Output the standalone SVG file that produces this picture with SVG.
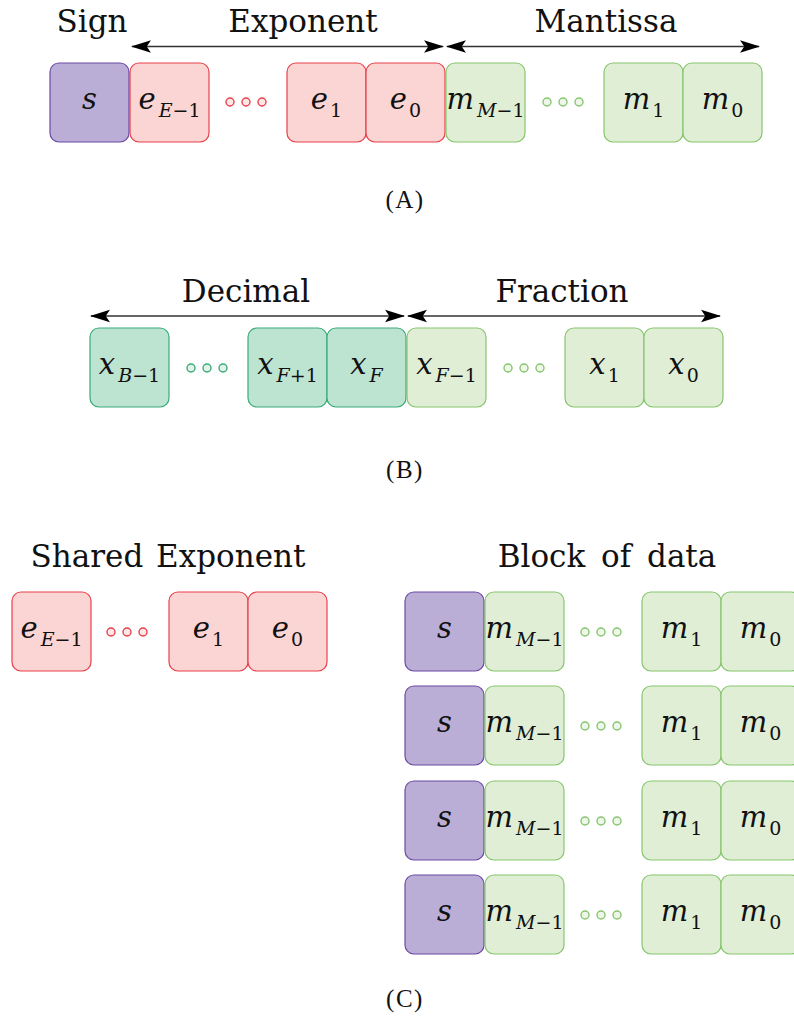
<svg xmlns="http://www.w3.org/2000/svg" width="794" height="1019" viewBox="0 0 794 1019">
<style>
.h{font-family:"DejaVu Serif",serif;font-size:31px;fill:#111;text-anchor:middle}
.cap{font-family:"Liberation Serif",serif;font-size:25px;fill:#111;text-anchor:middle;letter-spacing:1.5px}
.l{font-family:"DejaVu Serif",serif;font-style:italic;font-size:29px;fill:#111;text-anchor:middle}
.sub{font-size:19px}
.up{font-style:normal}
.sg{fill:#bbaed6;stroke:#6b4aa6;stroke-width:1.2}
.ex{fill:#fbd4d4;stroke:#e8414b;stroke-width:1.2}
.mt{fill:#dfeed5;stroke:#86c66e;stroke-width:1.2}
.dc{fill:#bde3d1;stroke:#38ab78;stroke-width:1.2}
.dex{fill:#fde7e7;stroke:#e8414b;stroke-width:1.4}
.dmt{fill:#eef7e9;stroke:#86c66e;stroke-width:1.4}
.ddc{fill:#e3f3eb;stroke:#38ab78;stroke-width:1.4}
.arr{stroke:#333;stroke-width:1.5;fill:none;marker-start:url(#ah);marker-end:url(#ah)}
</style>
<defs>
<marker id="ah" markerUnits="userSpaceOnUse" markerWidth="20" markerHeight="14" viewBox="0 0 19 12" refX="18" refY="6" orient="auto-start-reverse">
<path d="M0,0 L19,6 L0,12 L4,6 z" fill="#000"/>
</marker>
</defs>

<g id="connectors">
<line class="arr" x1="132" y1="46.5" x2="443" y2="46.5"/>
<line class="arr" x1="447" y1="46.5" x2="759" y2="46.5"/>
<line class="arr" x1="91" y1="316" x2="404" y2="316"/>
<line class="arr" x1="408" y1="316" x2="720" y2="316"/>
</g>

<g id="titles">
<text class="h" x="92" y="32">Sign</text>
<text class="h" x="303" y="32">Exponent</text>
<text class="h" x="606" y="32">Mantissa</text>
<text class="h" x="246" y="302">Decimal</text>
<text class="h" x="562" y="302">Fraction</text>
<text class="h" x="168" y="567" word-spacing="3">Shared Exponent</text>
<text class="h" x="607" y="567" word-spacing="6">Block of data</text>
<text class="cap" x="405" y="208">(A)</text>
<text class="cap" x="405" y="478">(B)</text>
<text class="cap" x="405" y="1007">(C)</text>
</g>

<!-- Panel A -->
<g id="a-s"><rect class="sg" x="50" y="63" width="79" height="79" rx="9"/><text class="l" x="89.5" y="109">s</text></g>
<g id="a-eE1"><rect class="ex" x="130" y="63" width="79" height="79" rx="9"/><text class="l" x="169.5" y="109">e<tspan class="sub" dx="3" dy="8">E<tspan class="up">−1</tspan></tspan></text></g>
<g id="a-edots"><circle class="dex" cx="230" cy="102" r="4"/><circle class="dex" cx="246" cy="102" r="4"/><circle class="dex" cx="262" cy="102" r="4"/></g>
<g id="a-e1"><rect class="ex" x="287" y="63" width="79" height="79" rx="9"/><text class="l" x="326.5" y="109">e<tspan class="sub up" dx="2" dy="8">1</tspan></text></g>
<g id="a-e0"><rect class="ex" x="366" y="63" width="79" height="79" rx="9"/><text class="l" x="405.5" y="109">e<tspan class="sub up" dx="2" dy="8">0</tspan></text></g>
<g id="a-mM1"><rect class="mt" x="446" y="63" width="79" height="79" rx="9"/><text class="l" x="485.5" y="109">m<tspan class="sub" dx="3" dy="8">M<tspan class="up">−1</tspan></tspan></text></g>
<g id="a-mdots"><circle class="dmt" cx="547" cy="102" r="4"/><circle class="dmt" cx="563" cy="102" r="4"/><circle class="dmt" cx="579" cy="102" r="4"/></g>
<g id="a-m1"><rect class="mt" x="604" y="63" width="79" height="79" rx="9"/><text class="l" x="643.5" y="109">m<tspan class="sub up" dx="2" dy="8">1</tspan></text></g>
<g id="a-m0"><rect class="mt" x="683" y="63" width="79" height="79" rx="9"/><text class="l" x="722.5" y="109">m<tspan class="sub up" dx="2" dy="8">0</tspan></text></g>

<!-- Panel B -->
<g id="b-xB1"><rect class="dc" x="90" y="328" width="79" height="79" rx="9"/><text class="l" x="129.5" y="374">x<tspan class="sub" dx="3" dy="8">B<tspan class="up">−1</tspan></tspan></text></g>
<g id="b-ddots"><circle class="ddc" cx="191" cy="368" r="4"/><circle class="ddc" cx="207" cy="368" r="4"/><circle class="ddc" cx="223" cy="368" r="4"/></g>
<g id="b-xF1p"><rect class="dc" x="248" y="328" width="79" height="79" rx="9"/><text class="l" x="287.5" y="374">x<tspan class="sub" dx="3" dy="8">F<tspan class="up">+1</tspan></tspan></text></g>
<g id="b-xF"><rect class="dc" x="327" y="328" width="79" height="79" rx="9"/><text class="l" x="366.5" y="374">x<tspan class="sub" dx="3" dy="8">F</tspan></text></g>
<g id="b-xF1m"><rect class="mt" x="407" y="328" width="79" height="79" rx="9"/><text class="l" x="446.5" y="374">x<tspan class="sub" dx="3" dy="8">F<tspan class="up">−1</tspan></tspan></text></g>
<g id="b-fdots"><circle class="dmt" cx="508" cy="368" r="4"/><circle class="dmt" cx="524" cy="368" r="4"/><circle class="dmt" cx="540" cy="368" r="4"/></g>
<g id="b-x1"><rect class="mt" x="565" y="328" width="79" height="79" rx="9"/><text class="l" x="604.5" y="374">x<tspan class="sub up" dx="2" dy="8">1</tspan></text></g>
<g id="b-x0"><rect class="mt" x="644" y="328" width="79" height="79" rx="9"/><text class="l" x="683.5" y="374">x<tspan class="sub up" dx="2" dy="8">0</tspan></text></g>

<!-- Panel C: shared exponent -->
<g id="c-eE1"><rect class="ex" x="12" y="592" width="79" height="79" rx="9"/><text class="l" x="51.5" y="638">e<tspan class="sub" dx="3" dy="8">E<tspan class="up">−1</tspan></tspan></text></g>
<g id="c-edots"><circle class="dex" cx="111" cy="632" r="4"/><circle class="dex" cx="127" cy="632" r="4"/><circle class="dex" cx="143" cy="632" r="4"/></g>
<g id="c-e1"><rect class="ex" x="169" y="592" width="79" height="79" rx="9"/><text class="l" x="208.5" y="638">e<tspan class="sub up" dx="2" dy="8">1</tspan></text></g>
<g id="c-e0"><rect class="ex" x="248" y="592" width="79" height="79" rx="9"/><text class="l" x="287.5" y="638">e<tspan class="sub up" dx="2" dy="8">0</tspan></text></g>

<!-- Panel C: block rows -->
<g id="c-row1">
<rect class="sg" x="405" y="592" width="79" height="79" rx="9"/><text class="l" x="444.5" y="638">s</text>
<rect class="mt" x="485" y="592" width="79" height="79" rx="9"/><text class="l" x="524.5" y="638">m<tspan class="sub" dx="3" dy="8">M<tspan class="up">−1</tspan></tspan></text>
<circle class="dmt" cx="585" cy="632" r="4"/><circle class="dmt" cx="601" cy="632" r="4"/><circle class="dmt" cx="617" cy="632" r="4"/>
<rect class="mt" x="642" y="592" width="79" height="79" rx="9"/><text class="l" x="681.5" y="638">m<tspan class="sub up" dx="2" dy="8">1</tspan></text>
<rect class="mt" x="721" y="592" width="79" height="79" rx="9"/><text class="l" x="760.5" y="638">m<tspan class="sub up" dx="2" dy="8">0</tspan></text>
</g>
<g id="c-row2">
<rect class="sg" x="405" y="686" width="79" height="79" rx="9"/><text class="l" x="444.5" y="732">s</text>
<rect class="mt" x="485" y="686" width="79" height="79" rx="9"/><text class="l" x="524.5" y="732">m<tspan class="sub" dx="3" dy="8">M<tspan class="up">−1</tspan></tspan></text>
<circle class="dmt" cx="585" cy="726" r="4"/><circle class="dmt" cx="601" cy="726" r="4"/><circle class="dmt" cx="617" cy="726" r="4"/>
<rect class="mt" x="642" y="686" width="79" height="79" rx="9"/><text class="l" x="681.5" y="732">m<tspan class="sub up" dx="2" dy="8">1</tspan></text>
<rect class="mt" x="721" y="686" width="79" height="79" rx="9"/><text class="l" x="760.5" y="732">m<tspan class="sub up" dx="2" dy="8">0</tspan></text>
</g>
<g id="c-row3">
<rect class="sg" x="405" y="781" width="79" height="79" rx="9"/><text class="l" x="444.5" y="827">s</text>
<rect class="mt" x="485" y="781" width="79" height="79" rx="9"/><text class="l" x="524.5" y="827">m<tspan class="sub" dx="3" dy="8">M<tspan class="up">−1</tspan></tspan></text>
<circle class="dmt" cx="585" cy="821" r="4"/><circle class="dmt" cx="601" cy="821" r="4"/><circle class="dmt" cx="617" cy="821" r="4"/>
<rect class="mt" x="642" y="781" width="79" height="79" rx="9"/><text class="l" x="681.5" y="827">m<tspan class="sub up" dx="2" dy="8">1</tspan></text>
<rect class="mt" x="721" y="781" width="79" height="79" rx="9"/><text class="l" x="760.5" y="827">m<tspan class="sub up" dx="2" dy="8">0</tspan></text>
</g>
<g id="c-row4">
<rect class="sg" x="405" y="875" width="79" height="79" rx="9"/><text class="l" x="444.5" y="921">s</text>
<rect class="mt" x="485" y="875" width="79" height="79" rx="9"/><text class="l" x="524.5" y="921">m<tspan class="sub" dx="3" dy="8">M<tspan class="up">−1</tspan></tspan></text>
<circle class="dmt" cx="585" cy="915" r="4"/><circle class="dmt" cx="601" cy="915" r="4"/><circle class="dmt" cx="617" cy="915" r="4"/>
<rect class="mt" x="642" y="875" width="79" height="79" rx="9"/><text class="l" x="681.5" y="921">m<tspan class="sub up" dx="2" dy="8">1</tspan></text>
<rect class="mt" x="721" y="875" width="79" height="79" rx="9"/><text class="l" x="760.5" y="921">m<tspan class="sub up" dx="2" dy="8">0</tspan></text>
</g>
</svg>
